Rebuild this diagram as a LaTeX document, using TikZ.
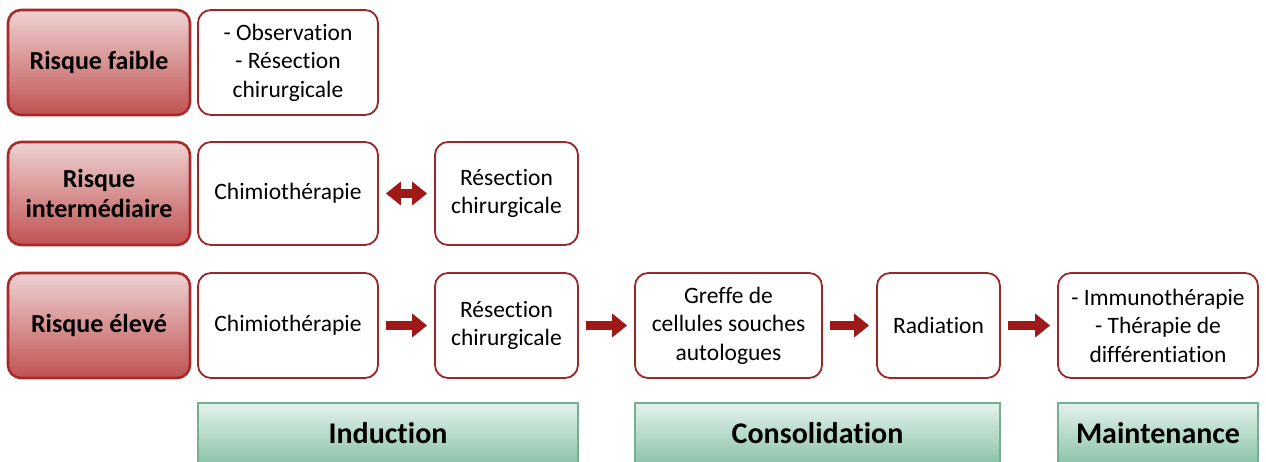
\documentclass[tikz,border=0pt]{standalone}
\usepackage{fontspec}
\setmainfont{Carlito}[Ligatures=NoCommon]
\usetikzlibrary{arrows.meta}
\definecolor{riskborder}{RGB}{170,40,40}
\definecolor{risktop}{RGB}{238,210,210}
\definecolor{riskbot}{RGB}{192,82,82}
\definecolor{boxborder}{RGB}{155,40,40}
\definecolor{arrowred}{RGB}{160,25,25}
\definecolor{phasetop}{RGB}{228,242,235}
\definecolor{phasebot}{RGB}{140,196,170}
\definecolor{phaseborder}{RGB}{118,174,148}
\tikzset{
  risk/.style={draw=riskborder, line width=2.6pt, rounded corners=13pt,
    top color=risktop, bottom color=riskbot, align=center, inner sep=0pt,
    font=\bfseries\fontsize{26}{30}\selectfont},
  stepbox/.style={draw=boxborder, line width=1.8pt, rounded corners=13pt,
    fill=white, align=center, inner sep=0pt,
    font=\fontsize{23.5}{28.5}\selectfont},
  phase/.style={draw=phaseborder, line width=1.6pt,
    top color=phasetop, bottom color=phasebot, inner sep=0pt,
    font=\bfseries\fontsize{30}{34}\selectfont},
  fat/.style={draw=arrowred, line width=9pt, shorten <=7pt, shorten >=7pt,
    -{Triangle[width=23pt,length=15pt]}},
  fatboth/.style={draw=arrowred, line width=9pt, shorten <=7pt, shorten >=7pt,
    {Triangle[width=23pt,length=15pt]}-{Triangle[width=23pt,length=15pt]}}
}
\begin{document}
\begin{tikzpicture}[x=1pt,y=-1pt]
\useasboundingbox (0,0) rectangle (1266,462);
% row 1
\node[risk, minimum width=182pt, minimum height=105pt] (rf) at (99,62.5) {Risque faible};
\node[stepbox, minimum width=180pt, minimum height=105pt] (obs) at (288,62.5) {- Observation\\- Résection\\chirurgicale};
% row 2
\node[risk, minimum width=182pt, minimum height=103pt] (ri) at (99,193.5) {Risque\\intermédiaire};
\node[stepbox, minimum width=180pt, minimum height=103pt] (ch2) at (288,193.5) {Chimiothérapie};
\node[stepbox, minimum width=143pt, minimum height=103pt] (re2) at (506.5,193.5) {Résection\\chirurgicale};
% row 3
\node[risk, minimum width=182pt, minimum height=105pt] (rel) at (99,325.5) {Risque élevé};
\node[stepbox, minimum width=180pt, minimum height=105pt] (ch3) at (288,325.5) {Chimiothérapie};
\node[stepbox, minimum width=143pt, minimum height=105pt] (re3) at (506.5,325.5) {Résection\\chirurgicale};
\node[stepbox, minimum width=187pt, minimum height=105pt] (gr) at (728.5,325.5) {Greffe de\\cellules souches\\autologues};
\node[stepbox, minimum width=123pt, minimum height=105pt] (rad) at (938.5,325.5) {Radiation};
\node[stepbox, minimum width=200pt, minimum height=105pt] (imm) at (1158,325.5) {- Immunothérapie\\- Thérapie de\\différentiation};
% phases
\node[phase, minimum width=380pt, minimum height=60pt] (ind) at (388,433) {Induction};
\node[phase, minimum width=365pt, minimum height=60pt] (cons) at (817.5,433) {Consolidation};
\node[phase, minimum width=200pt, minimum height=60pt] (maint) at (1158,433) {Maintenance};
% arrows
\draw[fatboth] (ch2) -- (re2);
\draw[fat] (ch3) -- (re3);
\draw[fat] (re3) -- (gr);
\draw[fat] (gr) -- (rad);
\draw[fat] (rad) -- (imm);
\end{tikzpicture}
\end{document}
